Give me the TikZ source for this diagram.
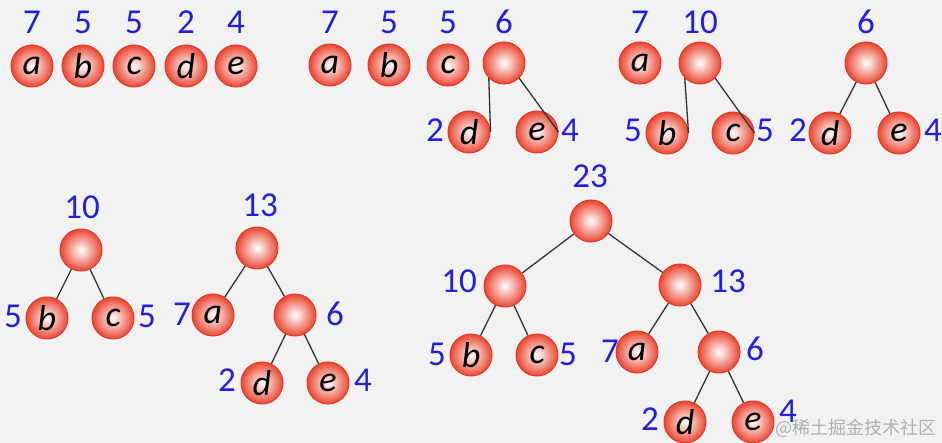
\documentclass[tikz,border=0pt]{standalone}
\usepackage{fontspec}
\setmainfont{Carlito}
\newfontfamily\cjk{Noto Sans CJK SC}
\usepackage{xcolor}
\usepackage{tikz}
\usetikzlibrary{positioning}

\definecolor{bgcol}{RGB}{242,242,242}
\definecolor{ballred}{RGB}{234,70,50}
\definecolor{ballrim}{RGB}{222,60,38}
\definecolor{wblue}{RGB}{40,30,215}
\definecolor{edgecol}{RGB}{50,50,50}
\definecolor{markgrey}{RGB}{175,175,175}

\tikzset{
	ball/.style={circle, minimum size=42pt, inner sep=0pt, draw=ballrim, line width=1pt,
		inner color=white, outer color=ballred, font=\fontsize{36}{38}\selectfont\itshape},
	weight/.style={inner sep=0pt, text=wblue, font=\fontsize{35}{38}\selectfont},
	edge/.style={draw=edgecol, line width=1.3pt}
}

\begin{document}
\begin{tikzpicture}[x=1pt, y=-1pt]
	\fill[bgcol] (0,0) rectangle (942,443);
	\useasboundingbox (0,0) rectangle (942,443);
	\node[ball] (a1) at (32,66) {a};
	\node[ball] (b1) at (83,66) {b};
	\node[ball] (c1) at (134,66) {c};
	\node[ball] (d1) at (186,66) {d};
	\node[ball] (e1) at (236,66) {e};
	\node[weight] (wa1) at (32,22) {7};
	\node[weight] (wb1) at (83,22) {5};
	\node[weight] (wc1) at (134,22) {5};
	\node[weight] (wd1) at (186,22) {2};
	\node[weight] (we1) at (236,22) {4};
	\node[ball] (a2) at (330,65) {a};
	\node[ball] (b2) at (389,65) {b};
	\node[ball] (c2) at (448,65) {c};
	\node[ball] (r2) at (504,63) {};
	\node[ball] (d2) at (469,132) {d};
	\node[ball] (e2) at (537,132) {e};
	\node[weight] (wa2) at (330,22) {7};
	\node[weight] (wb2) at (389,22) {5};
	\node[weight] (wc2) at (448,22) {5};
	\node[weight] (wr2) at (504,22) {6};
	\node[weight] (wd2) at (435,130) {2};
	\node[weight] (we2) at (570,130) {4};
	\draw[edge] (r2.-135) -- (d2.east);
	\draw[edge] (r2.-45) -- (e2.east);
	\node[ball] (a3) at (640,63) {a};
	\node[ball] (r3) at (700,63) {};
	\node[ball] (b3) at (667,133) {b};
	\node[ball] (c3) at (733,133) {c};
	\node[ball] (s3) at (866,63) {};
	\node[ball] (d3) at (830,133) {d};
	\node[ball] (e3) at (899,133) {e};
	\node[weight] (wa3) at (640,22) {7};
	\node[weight] (wr3) at (700,22) {10};
	\node[weight] (wb3) at (633,130) {5};
	\node[weight] (wc3) at (765,130) {5};
	\node[weight] (ws3) at (866,22) {6};
	\node[weight] (wd3) at (798,130) {2};
	\node[weight] (we3) at (933,130) {4};
	\draw[edge] (r3.-135) -- (b3.east);
	\draw[edge] (r3.-45) -- (c3.east);
	\draw[edge] (s3) -- (d3);
	\draw[edge] (s3) -- (e3);
	\node[ball] (r4) at (81,250) {};
	\node[ball] (b4) at (47,318) {b};
	\node[ball] (c4) at (113,318) {c};
	\node[ball] (t4) at (257,248) {};
	\node[ball] (a4) at (213,315) {a};
	\node[ball] (s4) at (295,315) {};
	\node[ball] (d4) at (262,383) {d};
	\node[ball] (e4) at (328,383) {e};
	\node[weight] (wr4) at (82,207) {10};
	\node[weight] (wb4) at (13,316) {5};
	\node[weight] (wc4) at (147,316) {5};
	\node[weight] (wt4) at (260,205) {13};
	\node[weight] (wa4) at (182,314) {7};
	\node[weight] (ws4) at (335,314) {6};
	\node[weight] (wd4) at (227,380) {2};
	\node[weight] (we4) at (363,380) {4};
	\draw[edge] (r4) -- (b4);
	\draw[edge] (r4) -- (c4);
	\draw[edge] (t4) -- (a4);
	\draw[edge] (t4) -- (s4);
	\draw[edge] (s4) -- (d4);
	\draw[edge] (s4) -- (e4);
	\node[ball] (u5) at (591,221) {};
	\node[ball] (r5) at (505,286) {};
	\node[ball] (t5) at (680,285) {};
	\node[ball] (b5) at (471,355) {b};
	\node[ball] (c5) at (537,355) {c};
	\node[ball] (a5) at (637,352) {a};
	\node[ball] (s5) at (719,352) {};
	\node[ball] (d5) at (685,422) {d};
	\node[ball] (e5) at (753,422) {e};
	\node[weight] (wu5) at (590,176) {23};
	\node[weight] (wr5) at (459,281) {10};
	\node[weight] (wt5) at (728,281) {13};
	\node[weight] (wb5) at (437,354) {5};
	\node[weight] (wc5) at (568,354) {5};
	\node[weight] (wa5) at (610,351) {7};
	\node[weight] (ws5) at (755,349) {6};
	\node[weight] (wd5) at (650,419) {2};
	\node[weight] (we5) at (788,411) {4};
	\draw[edge] (u5) -- (r5);
	\draw[edge] (u5) -- (t5);
	\draw[edge] (r5) -- (b5);
	\draw[edge] (r5) -- (c5);
	\draw[edge] (t5) -- (a5);
	\draw[edge] (t5) -- (s5);
	\draw[edge] (s5) -- (d5);
	\draw[edge] (s5) -- (e5);
	\node[inner sep=0pt, text=markgrey, font=\cjk\fontsize{18}{20}\selectfont] (mark) at (856,428) {@稀土掘金技术社区};
\end{tikzpicture}
\end{document}
